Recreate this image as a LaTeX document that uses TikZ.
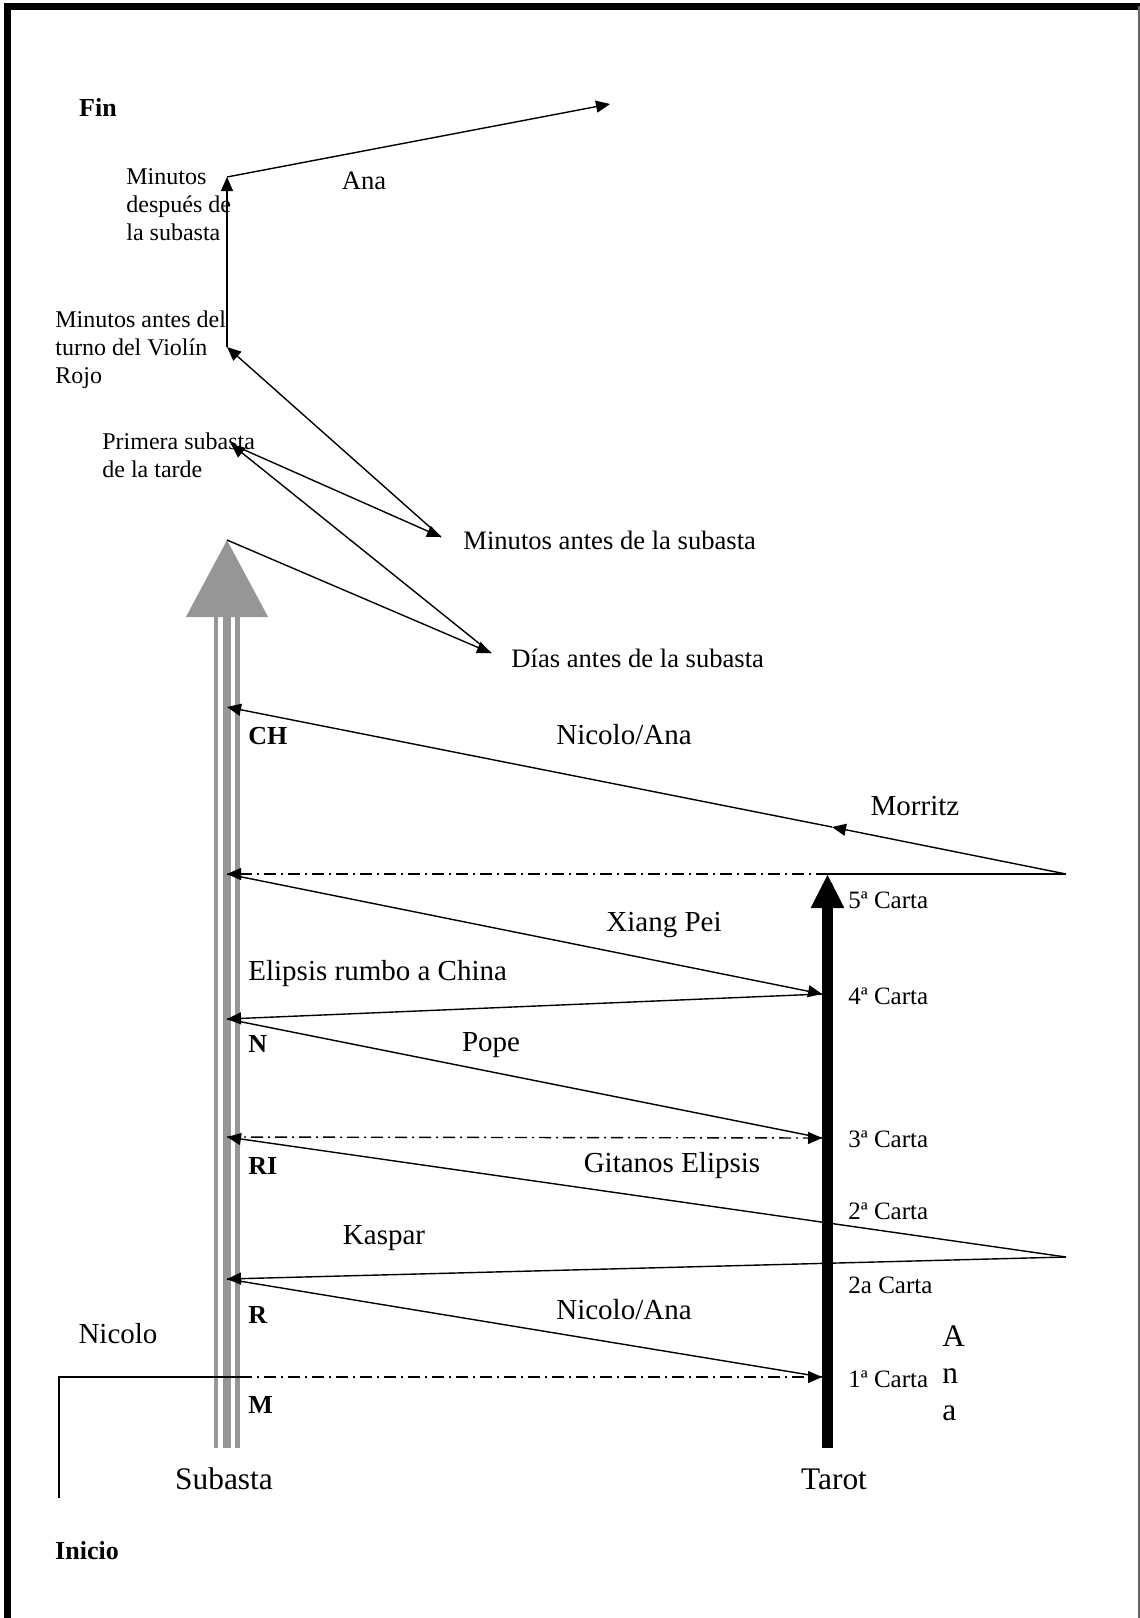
\documentclass[tikz,border=0pt]{standalone}
\usepackage{fontspec}
\setmainfont{Liberation Serif}
\usetikzlibrary{arrows.meta}

\definecolor{subgray}{RGB}{150,150,150}
\definecolor{framegray}{RGB}{100,100,100}

\tikzset{
  msg/.style={line width=0.7pt, -{Triangle[length=7pt,width=6pt]}},
  plain/.style={line width=0.7pt},
  dashdot/.style={line width=0.7pt, dash pattern=on 6pt off 2.5pt on 1pt off 2.5pt},
  lbl/.style={inner sep=0pt, font=\fontsize{14.5}{17}\selectfont},
  lblbig/.style={inner sep=0pt, font=\fontsize{15.7}{18.5}\selectfont},
  lblmid/.style={inner sep=0pt, font=\fontsize{13.3}{16}\selectfont},
  lblsmall/.style={inner sep=0pt, align=left, font=\fontsize{12}{14}\selectfont},
  carta/.style={inner sep=0pt, anchor=west, font=\fontsize{12.5}{15}\selectfont},
  tag/.style={inner sep=0pt, font=\bfseries\fontsize{13}{15}\selectfont}
}

\begin{document}
\begin{tikzpicture}[x=0.5pt, y=-0.5pt]
  \useasboundingbox (0,0) rectangle (1140,1618);

  % frame
  \draw[line width=3.5pt] (7.5,1618) -- (7.5,6) -- (1140,6);
  \draw[line width=0.8pt, framegray] (1139,6) -- (1139,1618);

  % lifelines
  \coordinate (sub-bot) at (227,1448);
  \coordinate (sub-top) at (227,540);
  \coordinate (tar-bot) at (827.5,1448);
  \coordinate (tar-top) at (827.5,874);

  \draw[subgray, line width=2.15pt] (216,1448) -- (216,617);
  \draw[subgray, line width=2.15pt] (237.5,1448) -- (237.5,617);
  \draw[subgray, line width=4.2pt, -{Triangle[length=38.5pt,width=40pt]}] (sub-bot) -- (sub-top);
  \draw[line width=5.5pt, -{Triangle[length=17pt,width=15.5pt]}] (tar-bot) -- (tar-top);

  % points on the lifelines
  \coordinate (sch) at (227,707);
  \coordinate (s5)  at (227,874);
  \coordinate (sn)  at (227,1019);
  \coordinate (sri) at (227,1137);
  \coordinate (sr)  at (227,1279);
  \coordinate (sm)  at (240,1377);
  \coordinate (t5)  at (827.5,874);
  \coordinate (t4)  at (822,994);
  \coordinate (t3)  at (822,1138);
  \coordinate (t1)  at (822,1377);
  \coordinate (rp1) at (1066,874);
  \coordinate (rp2) at (1066,1257);
  \coordinate (mor) at (832,827);
  \coordinate (ini) at (59,1498);

  % upper path
  \coordinate (dias) at (491,653);
  \coordinate (prim) at (231,444);
  \coordinate (mant) at (441,537);
  \coordinate (viol) at (227,347);
  \coordinate (desp) at (227,177);
  \coordinate (fin)  at (610,104);

  \draw[msg] (sub-top) -- (dias);
  \draw[msg] (dias) -- (prim);
  \draw[msg] (prim) -- (mant);
  \draw[msg] (mant) -- (viol);
  \draw[msg] (viol) -- (desp);
  \draw[msg] (desp) -- (fin);

  % messages
  \draw[plain] (t5) -- (rp1);
  \draw[msg] (rp1) -- (mor);
  \draw[msg] (mor) -- (sch);
  \draw[dashdot, -{Triangle[length=7pt,width=6pt]}] (t5) -- (s5);
  \draw[msg] (s5) -- (t4);
  \draw[msg] (t4) -- (sn);
  \draw[plain] (sn) -- (t3);
  \draw[dashdot, -{Triangle[length=7pt,width=6pt]}] (sri) -- (t3);
  \draw[msg] (rp2) -- (sri);
  \draw[msg] (rp2) -- (sr);
  \draw[plain] (sr) -- (t1);
  \draw[plain] (ini) |- (sm);
  \draw[dashdot, -{Triangle[length=7pt,width=6pt]}] (sm) -- (t1);

  % labels
  \node[tag] (lfin) at (98,107) {Fin};
  \node[lblmid] (lana) at (364,181) {Ana};
  \node[lblsmall, anchor=west] (ldesp) at (126,205) {Minutos\\después de\\la subasta};
  \node[lblsmall, anchor=west] (lviol) at (55,350) {Minutos antes del\\turno del Violín\\Rojo};
  \node[lblsmall, anchor=west] (lprim) at (102,455) {Primera subasta\\de la tarde};
  \node[lblmid, anchor=west] (lmant) at (463,540) {Minutos antes de la subasta};
  \node[lblmid, anchor=west] (ldias) at (511,658) {Días antes de la subasta};

  \node[tag, anchor=west] (lch) at (248,736) {CH};
  \node[lbl] (lna1) at (624,735) {Nicolo/Ana};
  \node[lbl] (lmor) at (915,806) {Morritz};
  \node[carta] (c5) at (848,900) {5ª Carta};
  \node[lbl] (lxp) at (664,925) {Xiang Pei};
  \node[lbl, anchor=west] (lel) at (248,974) {Elipsis rumbo a China};
  \node[carta] (c4) at (848,996) {4ª Carta};
  \node[tag, anchor=west] (ln) at (248,1044) {N};
  \node[lbl] (lpope) at (491,1045) {Pope};
  \node[carta] (c3) at (848,1139) {3ª Carta};
  \node[tag, anchor=west] (lri) at (248,1166) {RI};
  \node[lbl] (lgit) at (672,1166) {Gitanos Elipsis};
  \node[carta] (c2) at (848,1211) {2ª Carta};
  \node[lbl] (lkas) at (384,1238) {Kaspar};
  \node[carta] (c2a) at (848,1285) {2a Carta};
  \node[tag, anchor=west] (lr) at (248,1315) {R};
  \node[lbl] (lna2) at (624,1310) {Nicolo/Ana};
  \node[lbl] (lnic) at (118,1334) {Nicolo};
  \node[carta] (c1) at (848,1379) {1ª Carta};
  \node[lblbig, align=left, anchor=west] (lanav) at (942,1373) {A\\n\\a};
  \node[tag, anchor=west] (lm) at (248,1405) {M};
  \node[lblbig] (lsub) at (224,1479) {Subasta};
  \node[lblbig] (ltar) at (834,1479) {Tarot};
  \node[tag] (lini) at (87,1551) {Inicio};
\end{tikzpicture}
\end{document}
